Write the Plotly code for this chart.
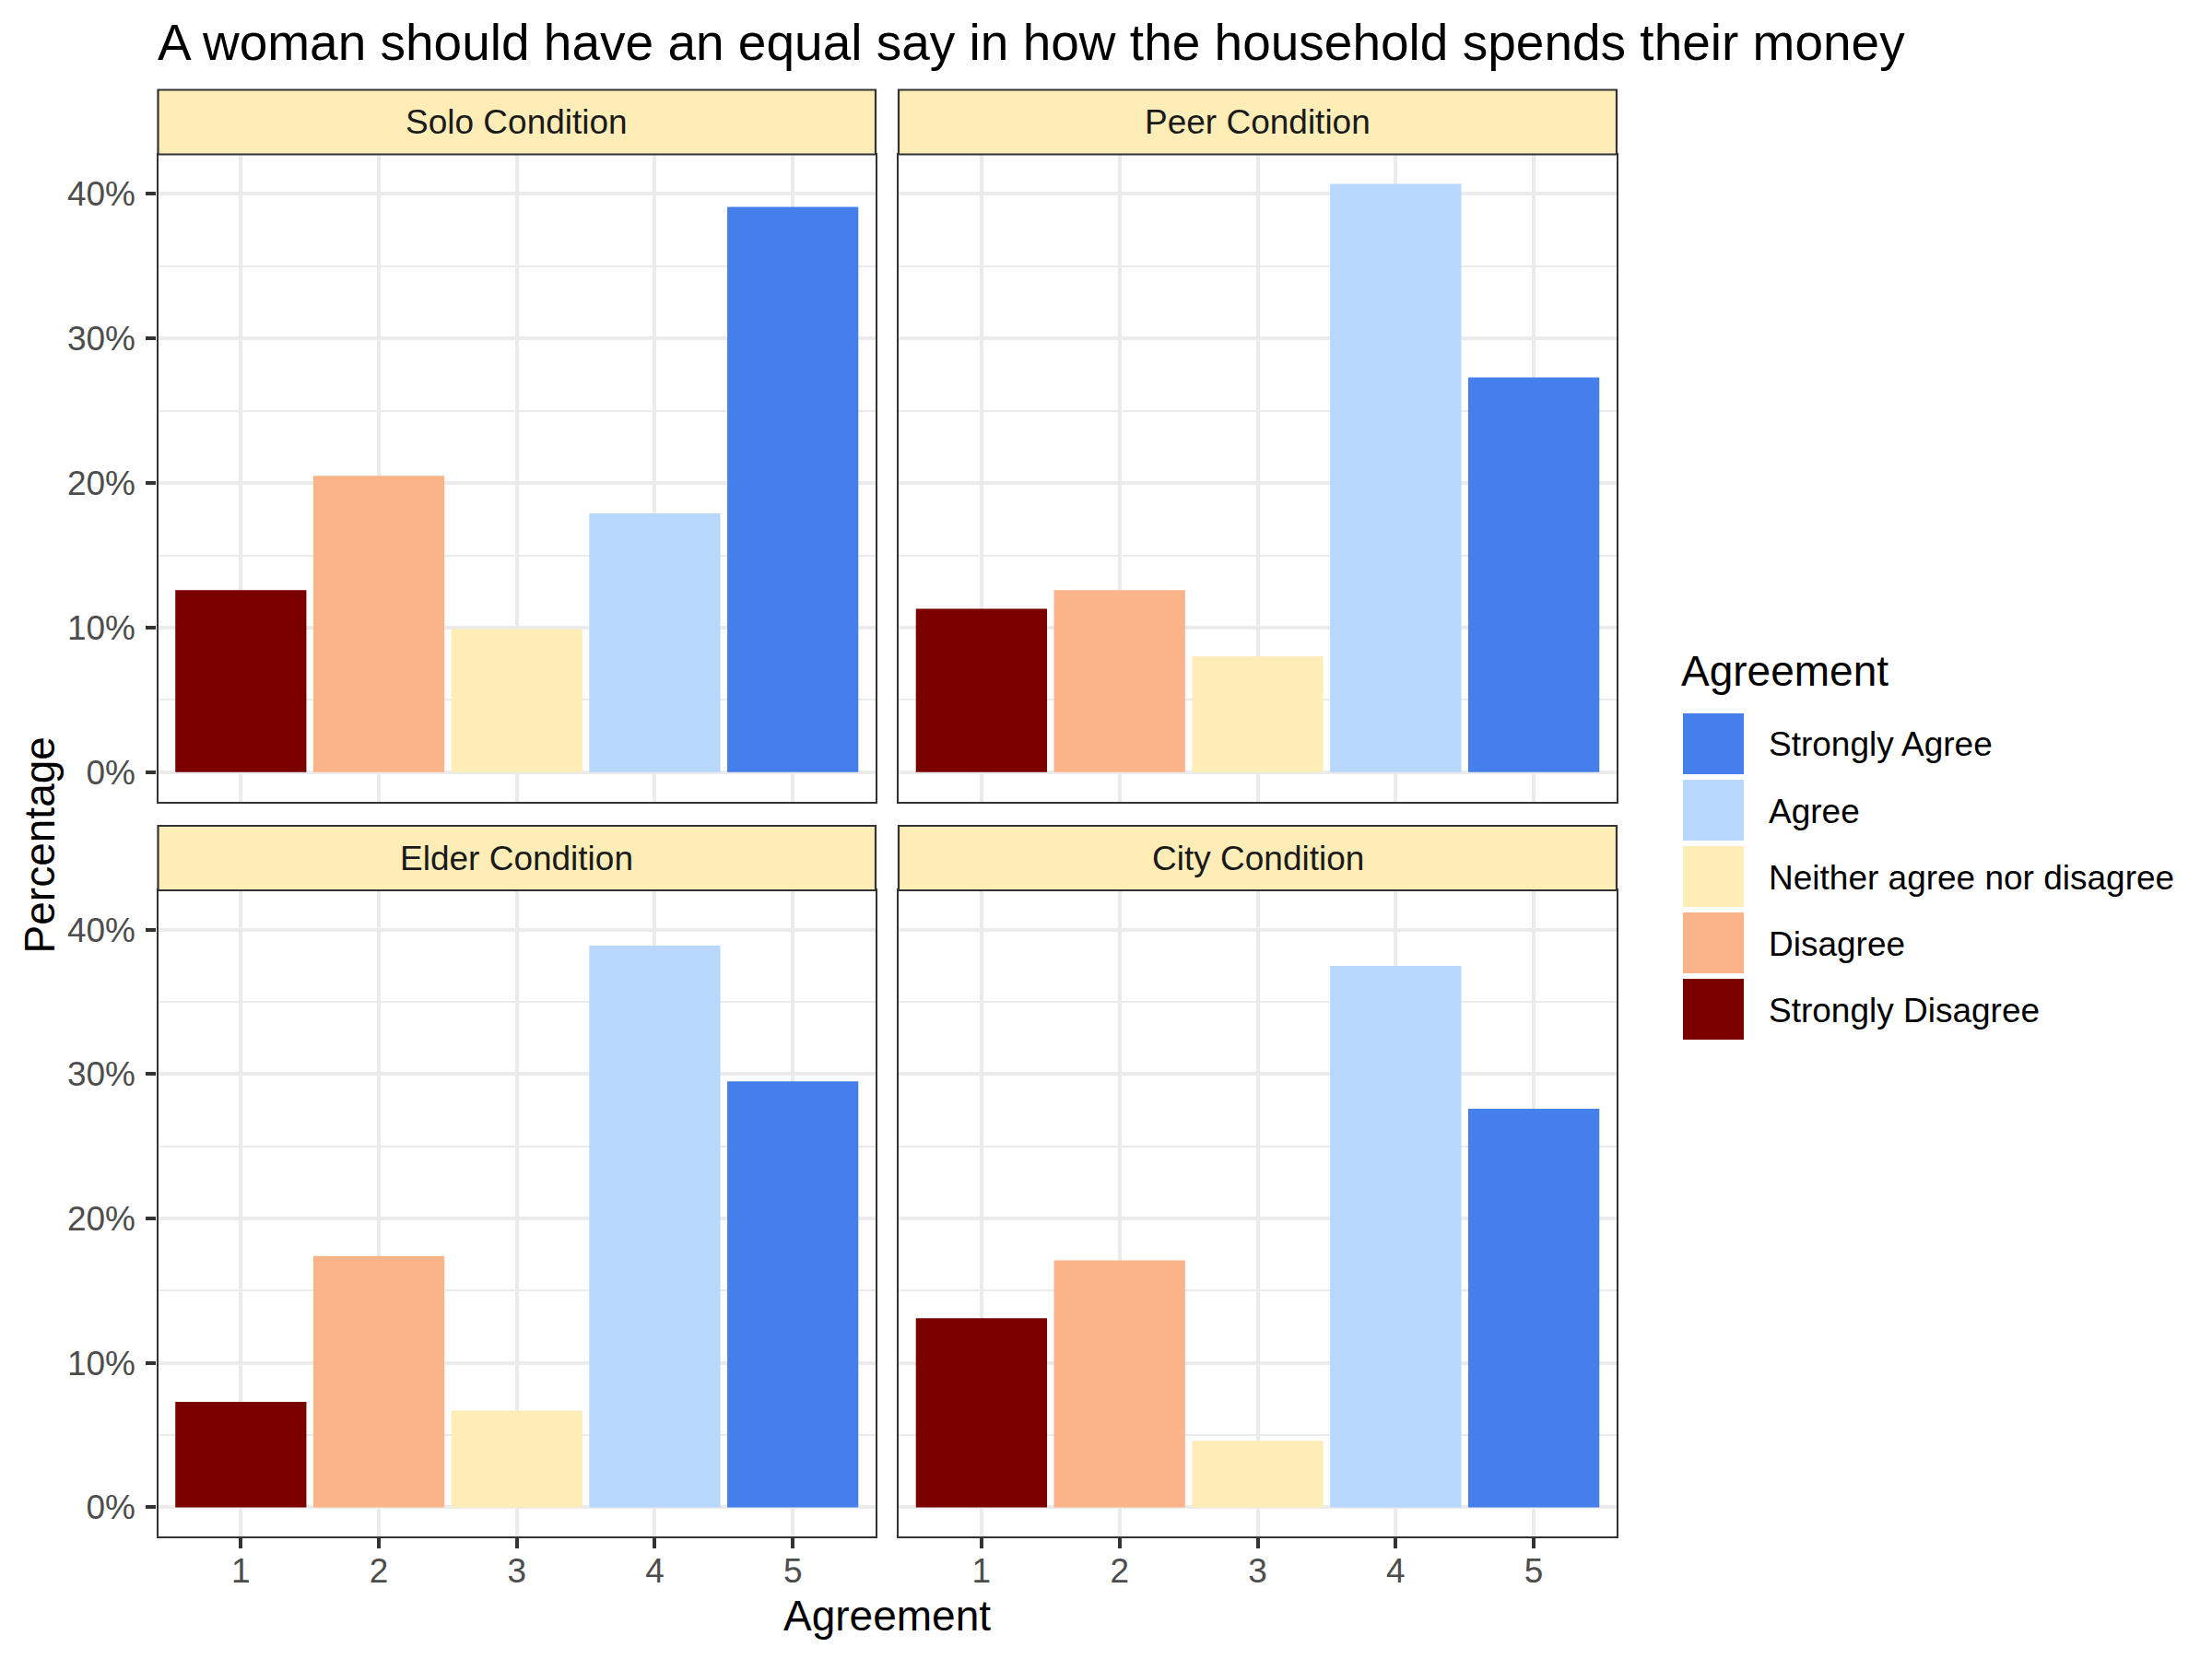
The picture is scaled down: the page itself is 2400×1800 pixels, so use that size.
import plotly.graph_objects as go
from plotly.subplots import make_subplots

# Source data (percent of respondents per agreement level)
conditions = ["Solo Condition", "Peer Condition", "Elder Condition", "City Condition"]
agreement = [1, 2, 3, 4, 5]
agreement_labels = ["Strongly Disagree", "Disagree", "Neither agree nor disagree",
                    "Agree", "Strongly Agree"]
agreement_colors = ["#7A0000", "#FBB48A", "#FEEDB6", "#B8D7FC", "#447FEC"]

solo_pct = [12.6, 20.5, 9.9, 17.9, 39.1]
peer_pct = [11.3, 12.6, 8.0, 40.7, 27.3]
elder_pct = [7.3, 17.4, 6.7, 38.9, 29.5]
city_pct = [13.1, 17.1, 4.6, 37.5, 27.6]
panel_values = [solo_pct, peer_pct, elder_pct, city_pct]

y_ticks = [0, 10, 20, 30, 40]
y_minor = [5, 15, 25, 35]
y_ticktext = [f"{v}%" for v in y_ticks]

# the page body has an 8px margin, so the figure is a bit smaller than the window
OFF = 8
W, H = 2400 - 2 * OFF, 1800 - 2 * OFF


def px(x):
    return (x - OFF) / W


def py(y):
    return 1 - (y - OFF) / H


# panel geometry in window pixels (left/right, top/bottom)
col_x = [(171.5, 950.0), (975.0, 1754.0)]
row_y = [(167.5, 869.7), (966.0, 1667.3)]
strip_h = 70.0

border = "#333333"
grid = "#EBEBEB"
font = "Liberation Sans"

fig = make_subplots(rows=2, cols=2)

ymax = max(max(v) for v in panel_values)
y_range = [-0.05 * ymax, 1.05 * ymax]

shapes = []
annotations = []

for i, (cond, vals) in enumerate(zip(conditions, panel_values)):
    r, c = i // 2, i % 2
    fig.add_trace(go.Bar(
        x=agreement, y=vals, width=0.95,
        marker=dict(color=agreement_colors, line=dict(width=0)),
        showlegend=False,
    ), row=r + 1, col=c + 1)

    sfx = "" if i == 0 else str(i + 1)
    x0, x1 = col_x[c]
    y0, y1 = row_y[r]
    fig.layout["xaxis" + sfx].update(
        domain=[px(x0), px(x1)], range=[0.4, 5.6], tickvals=agreement,
        showgrid=True, gridcolor=grid, gridwidth=4.4, zeroline=False,
        showline=True, mirror=True, linecolor=border, linewidth=2.2,
        ticks="outside" if r == 1 else "", ticklen=11, tickwidth=4.4, tickcolor=border,
        showticklabels=(r == 1), tickfont=dict(size=37, color="#4D4D4D"),
        ticklabelstandoff=-8,
    )
    fig.layout["yaxis" + sfx].update(
        domain=[py(y1), py(y0)], range=y_range, tickvals=y_ticks, ticktext=y_ticktext,
        showgrid=True, gridcolor=grid, gridwidth=4.4, zeroline=False,
        minor=dict(tickvals=y_minor, showgrid=True, gridcolor=grid, gridwidth=2.2),
        showline=True, mirror=True, linecolor=border, linewidth=2.2,
        ticks="outside" if c == 0 else "", ticklen=11, tickwidth=4.4, tickcolor=border,
        showticklabels=(c == 0), tickfont=dict(size=37, color="#4D4D4D"),
        ticklabelstandoff=4,
    )

    # facet strip
    shapes.append(dict(type="rect", xref="paper", yref="paper",
                       x0=px(x0), x1=px(x1), y0=py(y0), y1=py(y0 - strip_h),
                       fillcolor="#FEEDB6", line=dict(color=border, width=2.2)))
    annotations.append(dict(text=cond, xref="paper", yref="paper",
                            x=px((x0 + x1) / 2), y=py(y0 - strip_h / 2),
                            xanchor="center", yanchor="middle",
                            showarrow=False, font=dict(size=37, color="#1A1A1A")))

# axis titles
annotations.append(dict(text="Agreement", xref="paper", yref="paper",
                        x=px((col_x[0][0] + col_x[1][1]) / 2), y=py(1753),
                        xanchor="center", yanchor="middle",
                        showarrow=False, font=dict(size=46, color="black")))
annotations.append(dict(text="Percentage", xref="paper", yref="paper", textangle=-90,
                        x=px(43), y=py((row_y[0][0] + row_y[1][1]) / 2),
                        xanchor="center", yanchor="middle",
                        showarrow=False, font=dict(size=46, color="black")))

# legend (drawn by hand so the keys match the large square swatches)
annotations.append(dict(text="Agreement", xref="paper", yref="paper",
                        x=px(1822), y=py(728), xanchor="left", yanchor="middle",
                        showarrow=False, font=dict(size=46, color="black")))
for k, (lab, col) in enumerate(zip(agreement_labels[::-1], agreement_colors[::-1])):
    top = 774 + 72 * k
    shapes.append(dict(type="rect", xref="paper", yref="paper",
                       x0=px(1826), x1=px(1892), y0=py(top + 66), y1=py(top),
                       fillcolor=col, line=dict(width=0)))
    annotations.append(dict(text=lab, xref="paper", yref="paper",
                            x=px(1917), y=py(top + 34), xanchor="left", yanchor="middle",
                            showarrow=False, font=dict(size=37, color="black")))

fig.update_layout(
    width=W, height=H,
    margin=dict(l=0, r=0, t=0, b=0),
    paper_bgcolor="white", plot_bgcolor="white",
    font=dict(family=font, color="black"),
    title=dict(text="A woman should have an equal say in how the household spends their money",
               x=px(171), xanchor="left", y=py(46), yanchor="middle",
               font=dict(size=55, color="black")),
    shapes=shapes, annotations=annotations,
    bargap=0.05,
)

fig.write_html("out.html")
